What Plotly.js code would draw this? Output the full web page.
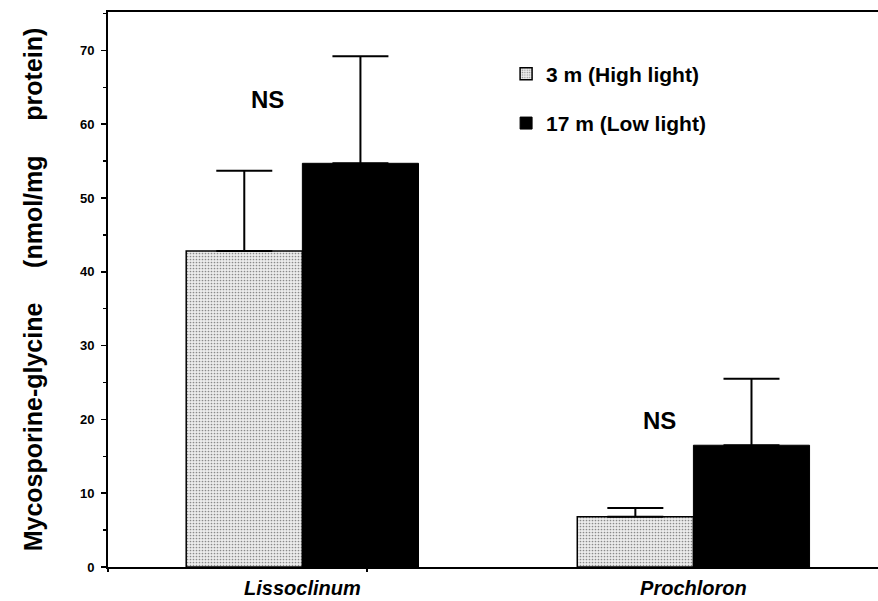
<!DOCTYPE html>
<html>
<head>
<meta charset="utf-8">
<script src="https://cdn.plot.ly/plotly-3.0.1.min.js"></script>
<style>html,body{margin:0;padding:0;background:#fff;}#chart{width:878px;height:601px;}</style>
</head>
<body>
<div id="chart"></div>
<script>
// Data
var categories = ["Lissoclinum", "Prochloron"];
var seriesNames = ["3 m (High light)", "17 m (Low light)"];
var highLight = [42.8, 6.8];
var highLightErr = [10.9, 1.2];
var lowLight = [54.7, 16.5];
var lowLightErr = [14.5, 9.0];
var sigLabels = ["NS", "NS"];
var sigY = [63.4, 19.9];
var yTicks = [0, 10, 20, 30, 40, 50, 60, 70];

var FONT = "Liberation Sans, Arial, Helvetica, sans-serif";
var NB = "\u00a0\u00a0\u00a0\u00a0\u00a0";

var traces = [
  {
    type: "bar", name: seriesNames[0], x: categories, y: highLight,
    marker: {
      color: "#e2e2e2",
      line: {color: "#000", width: 1.5},
      pattern: {shape: ".", fgcolor: "#8a8a8a", bgcolor: "#ececec", size: 3, solidity: 0.25}
    },
    error_y: {type: "data", symmetric: false, array: highLightErr, arrayminus: [0, 0],
              color: "#000", thickness: 2, width: 28},
    legendgroup: "a"
  },
  {
    type: "bar", name: seriesNames[1], x: categories, y: lowLight,
    marker: {color: "#000", line: {color: "#000", width: 1}},
    error_y: {type: "data", symmetric: false, array: lowLightErr, arrayminus: [0, 0],
              color: "#000", thickness: 2, width: 28},
    legendgroup: "b"
  },
  // helper trace to carry the extra x tick marks on the overlay axis
  {type: "scatter", x: [0.165], y: [0], xaxis: "x2", mode: "markers",
   marker: {opacity: 0}, showlegend: false, hoverinfo: "skip"}
];

var annotations = categories.map(function (c, i) {
  return {
    x: i - 0.088, y: sigY[i], xref: "x", yref: "y", text: "<b>" + sigLabels[i] + "</b>",
    showarrow: false, font: {family: FONT, size: 24, color: "#000"}
  };
});

var layout = {
  width: 878, height: 601,
  margin: {l: 108, r: 0, t: 12, b: 34},
  paper_bgcolor: "#fff", plot_bgcolor: "#fff",
  barmode: "group", bargap: 0.406, bargroupgap: 0,
  showlegend: true,
  legend: {
    x: 0.517, y: 0.925, xanchor: "left", yanchor: "top",
    font: {family: FONT, size: 21, color: "#000", weight: "bold"},
    tracegroupgap: 19, bgcolor: "rgba(0,0,0,0)"
  },
  xaxis: {
    type: "category", range: [-0.497, 1.472],
    showline: true, linecolor: "#000", linewidth: 2, mirror: true,
    ticks: "", showgrid: false, zeroline: false,
    tickfont: {family: FONT, size: 20, color: "#000", weight: "bold", style: "italic"},
    ticklabelstandoff: 2
  },
  xaxis2: {
    overlaying: "x", type: "linear", range: [-0.497, 1.472], anchor: "y",
    tickvals: [-0.497, 0.165], showticklabels: false,
    ticks: "outside", ticklen: 4, tickwidth: 1.5, tickcolor: "#000",
    showline: false, showgrid: false, zeroline: false
  },
  yaxis: {
    range: [0, 75.2], tickvals: yTicks,
    showline: true, linecolor: "#000", linewidth: 2,
    ticks: "outside", ticklen: 5, tickwidth: 1.5, tickcolor: "#000",
    minor: {dtick: 5, ticks: "outside", ticklen: 3, tickwidth: 1.5, tickcolor: "#000", showgrid: false},
    showgrid: false, zeroline: false,
    tickfont: {family: FONT, size: 13, color: "#000", weight: "bold"},
    ticklabelstandoff: 4,
    title: {
      text: "Mycosporine-glycine" + NB + "(nmol/mg" + NB + "protein)",
      font: {family: FONT, size: 25, color: "#000", weight: "bold"},
      standoff: 30
    }
  },
  annotations: annotations
};

Plotly.newPlot("chart", traces, layout, {displayModeBar: false, staticPlot: true});
</script>
</body>
</html>
